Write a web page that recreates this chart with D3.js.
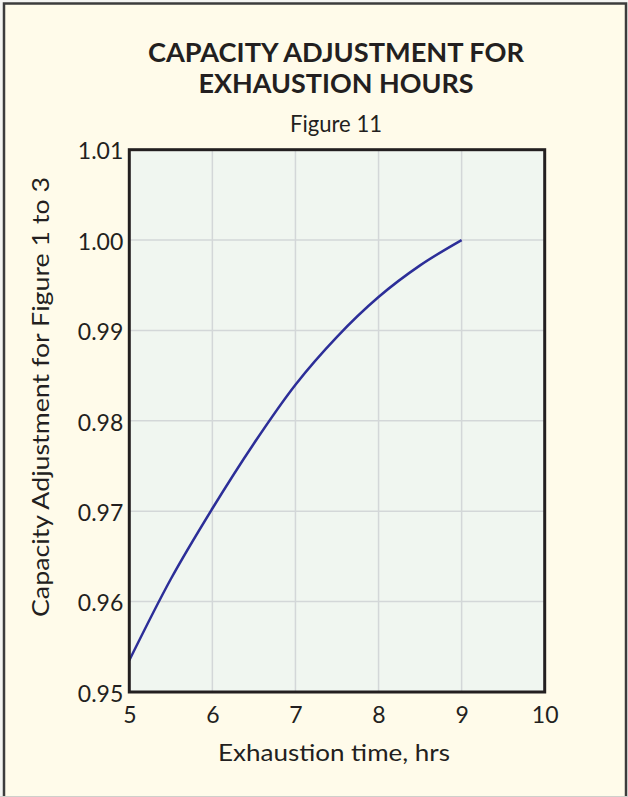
<!DOCTYPE html>
<html>
<head>
<meta charset="utf-8">
<script src="https://cdn.jsdelivr.net/npm/d3@7"></script>
<style>
  html, body { margin: 0; padding: 0; background: #ffffff; }
  svg { display: block; }
</style>
</head>
<body>
<script>
// data
const hours = [5, 5.5, 6, 6.5, 7, 7.5, 8, 8.5, 9];
const adjustment = [0.9535, 0.9625, 0.9703, 0.9775, 0.9840, 0.9893, 0.9937, 0.9972, 1.0000];
const xTicks = [5, 6, 7, 8, 9, 10];
const yTicks = [0.95, 0.96, 0.97, 0.98, 0.99, 1.00, 1.01];

const width = 628, height = 797;
const margin = {top: 149.7, right: 83.3, bottom: 105, left: 129.3};
const font = "Lato, 'Open Sans', sans-serif";
const ink = "#231f20";

const svg = d3.select("body")
  .append("svg")
  .attr("width", width)
  .attr("height", height);

// cream panel with frame
svg.append("rect")
  .attr("x", 0).attr("y", 0)
  .attr("width", width).attr("height", height)
  .attr("fill", "#f4f4f2");
svg.append("rect")
  .attr("x", 4).attr("y", 3.5)
  .attr("width", 622).attr("height", 820)
  .attr("fill", "#fffbea")
  .attr("stroke", "#3c3c3c")
  .attr("stroke-width", 2.5);
svg.append("line")
  .attr("x1", 0).attr("x2", width)
  .attr("y1", 796.5).attr("y2", 796.5)
  .attr("stroke", "#cfcfcb")
  .attr("stroke-width", 1);

const x = d3.scaleLinear()
  .domain([5, 10])
  .range([margin.left, width - margin.right]);

const y = d3.scaleLinear()
  .domain([0.95, 1.01])
  .range([height - margin.bottom, margin.top]);

// plot background
svg.append("rect")
  .attr("x", x(5)).attr("y", y(1.01))
  .attr("width", x(10) - x(5))
  .attr("height", y(0.95) - y(1.01))
  .attr("fill", "#f0f6f0");

// grid
svg.append("g")
  .selectAll("line")
  .data(xTicks.slice(1, -1))
  .join("line")
  .attr("x1", d => x(d)).attr("x2", d => x(d))
  .attr("y1", y(1.01)).attr("y2", y(0.95))
  .attr("stroke", "#d3d7d8")
  .attr("stroke-width", 1.5);

svg.append("g")
  .selectAll("line")
  .data(yTicks.slice(1, -1))
  .join("line")
  .attr("x1", x(5)).attr("x2", x(10))
  .attr("y1", d => y(d)).attr("y2", d => y(d))
  .attr("stroke", "#d3d7d8")
  .attr("stroke-width", 1.5);

// curve
const line = d3.line()
  .x((d, i) => x(hours[i]))
  .y(d => y(d))
  .curve(d3.curveMonotoneX);

svg.append("path")
  .datum(adjustment)
  .attr("fill", "none")
  .attr("stroke", "#2c2e98")
  .attr("stroke-width", 2.5)
  .attr("d", line);

// frame of plot
svg.append("rect")
  .attr("x", x(5)).attr("y", y(1.01))
  .attr("width", x(10) - x(5))
  .attr("height", y(0.95) - y(1.01))
  .attr("fill", "none")
  .attr("stroke", ink)
  .attr("stroke-width", 3);

// axes (labels only, frame drawn above)
const xAxis = svg.append("g")
  .attr("transform", `translate(0,${y(0.95)})`)
  .call(d3.axisBottom(x).tickValues(xTicks).tickSize(0).tickPadding(0).tickFormat(d3.format("d")));
xAxis.select(".domain").remove();
xAxis.selectAll("text")
  .attr("y", 31)
  .attr("dy", 0)
  .attr("font-family", font)
  .attr("font-size", 23)
  .attr("fill", ink);

const yAxis = svg.append("g")
  .attr("transform", `translate(${x(5)},0)`)
  .call(d3.axisLeft(y).tickValues(yTicks).tickSize(0).tickPadding(0).tickFormat(d3.format(".2f")));
yAxis.select(".domain").remove();
yAxis.selectAll("text")
  .attr("x", -6)
  .attr("dy", "0.4em")
  .attr("font-family", font)
  .attr("font-size", 23)
  .attr("fill", ink);

// axis titles
svg.append("text")
  .attr("x", 334)
  .attr("y", 761)
  .attr("text-anchor", "middle")
  .attr("font-family", font)
  .attr("font-size", 23)
  .attr("fill", ink)
  .attr("textLength", 232)
  .attr("lengthAdjust", "spacingAndGlyphs")
  .text("Exhaustion time, hrs");

svg.append("text")
  .attr("transform", "rotate(-90)")
  .attr("x", -397)
  .attr("y", 49)
  .attr("text-anchor", "middle")
  .attr("font-family", font)
  .attr("font-size", 23)
  .attr("fill", ink)
  .attr("textLength", 440)
  .attr("lengthAdjust", "spacingAndGlyphs")
  .text("Capacity Adjustment for Figure 1 to 3");

// titles
svg.append("text")
  .attr("x", 336)
  .attr("y", 62)
  .attr("text-anchor", "middle")
  .attr("font-family", font)
  .attr("font-weight", "bold")
  .attr("font-size", 27)
  .attr("fill", ink)
  .attr("textLength", 376)
  .attr("lengthAdjust", "spacingAndGlyphs")
  .text("CAPACITY ADJUSTMENT FOR");

svg.append("text")
  .attr("x", 336)
  .attr("y", 93)
  .attr("text-anchor", "middle")
  .attr("font-family", font)
  .attr("font-weight", "bold")
  .attr("font-size", 27)
  .attr("fill", ink)
  .attr("textLength", 275)
  .attr("lengthAdjust", "spacingAndGlyphs")
  .text("EXHAUSTION HOURS");

svg.append("text")
  .attr("x", 336)
  .attr("y", 132)
  .attr("text-anchor", "middle")
  .attr("font-family", font)
  .attr("font-size", 24)
  .attr("fill", ink)
  .attr("textLength", 92)
  .attr("lengthAdjust", "spacingAndGlyphs")
  .text("Figure 11");
</script>
</body>
</html>
